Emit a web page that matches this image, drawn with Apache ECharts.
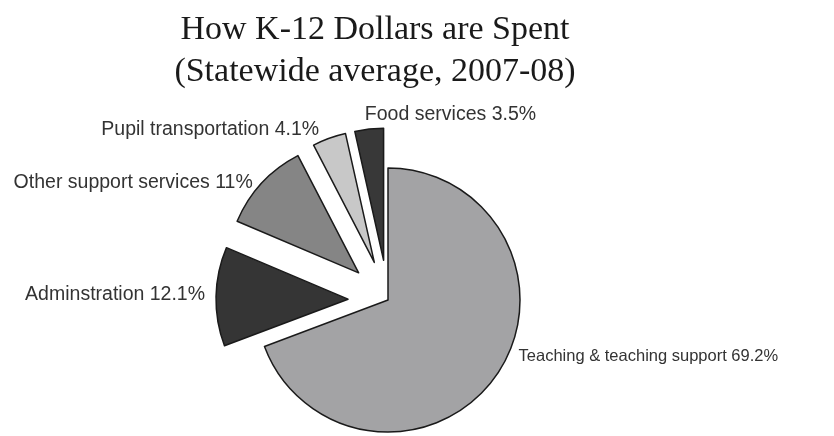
<!DOCTYPE html>
<html>
<head>
<meta charset="utf-8">
<script src="https://cdn.jsdelivr.net/npm/echarts@6/dist/echarts.min.js"></script>
<style>html,body{margin:0;padding:0;background:#fff}#c{width:834px;height:436px}</style>
</head>
<body>
<div id="c"></div>
<script>
var titleLines = ['How K-12 Dollars are Spent', '(Statewide average, 2007-08)'];
var categories = ['Teaching & teaching support', 'Adminstration', 'Other support services', 'Pupil transportation', 'Food services'];
var values = [69.2, 12.1, 11, 4.1, 3.5];
var labelTexts = ['69.2%', '12.1%', '11%', '4.1%', '3.5%'];
var exploded = [false, true, true, true, true];

var colors = ['#a3a3a5', '#353535', '#858585', '#c8c8c8', '#383838'];
var labelOffsets = [[17, -19], [-6, -2], [-4, -1], [-5, -9], [172, -14]];
var labelSizes = [16.5, 19.5, 19.5, 19.5, 19.5];

var data = categories.map(function (name, i) {
  return {
    name: name,
    value: values[i],
    selected: exploded[i],
    itemStyle: { color: colors[i] },
    label: { fontSize: labelSizes[i] }
  };
});

var chart = echarts.init(document.getElementById('c'));
chart.setOption({
  animation: false,
  title: {
    text: titleLines.join('\n'),
    left: 370, top: 4, textAlign: 'center',
    textStyle: { fontFamily: 'Liberation Serif', fontSize: 34, lineHeight: 42, fontWeight: 'normal', color: '#1a1a1a' }
  },
  series: [{
    type: 'pie',
    center: [388, 300],
    radius: 132,
    startAngle: 90,
    clockwise: true,
    selectedMode: 'multiple',
    selectedOffset: 40,
    avoidLabelOverlap: false,
    emphasis: { disabled: true },
    itemStyle: { borderColor: '#1a1a1a', borderWidth: 1.5 },
    label: {
      show: true, position: 'outside',
      formatter: function (p) { return p.name + ' ' + labelTexts[p.dataIndex]; },
      fontFamily: 'Liberation Sans', color: '#333', distanceToLabelLine: 5
    },
    labelLine: { show: false, length: 0, length2: 0 },
    labelLayout: function (p) {
      var o = labelOffsets[p.dataIndex];
      return { dx: o[0], dy: o[1] };
    },
    data: data
  }]
});
</script>
</body>
</html>
